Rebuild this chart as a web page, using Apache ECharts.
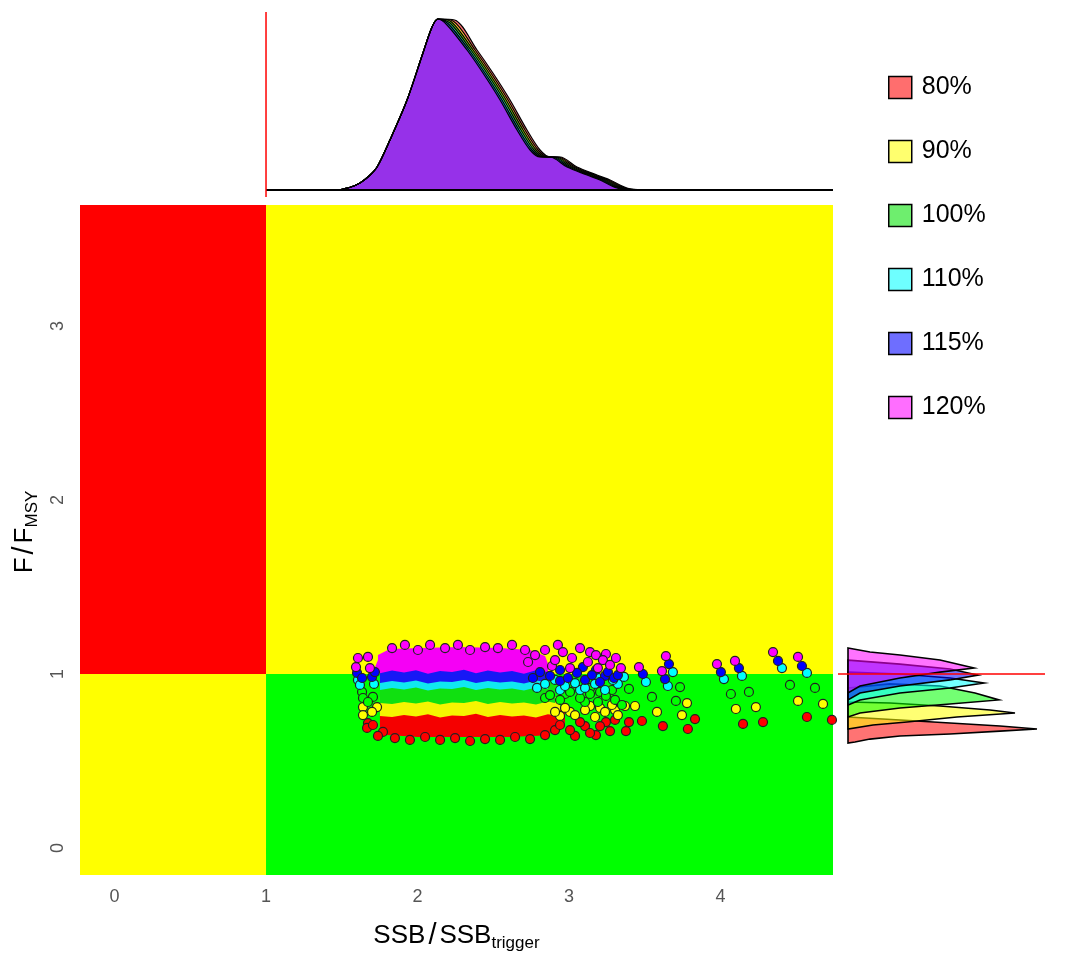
<!DOCTYPE html>
<html><head><meta charset="utf-8">
<script src="https://cdn.jsdelivr.net/npm/echarts@6/dist/echarts.min.js"></script>
<style>html,body{margin:0;padding:0;background:#fff}#c{width:1079px;height:958px}</style>
</head><body><div id="c"></div>
<script>
// ---------- data ----------
const xRange = [-0.228, 4.743];
const yRange = [-0.155, 3.695];
const xTicks = [0, 1, 2, 3, 4];
const yTicks = [0, 1, 2, 3];
const zones = [ // [x0,x1,y0,y1]
  [-0.228, 1, 1, 3.695],
  [-0.228, 1, -0.155, 1],
  [1, 4.743, 1, 3.695],
  [1, 4.743, -0.155, 1]
];
const scenarios = ['80%', '90%', '100%', '110%', '115%', '120%'];

// top marginal densities of SSB/SSBtrigger (x, density)
const densRise = [[1.475,0],[1.560,0.03],[1.620,0.07],[1.680,0.14],[1.733,0.23],[1.818,0.50],[1.931,0.90],[2.036,1.37],[2.096,1.63],[2.135,1.71]];
const dens80  = [[2.245,1.70],[2.393,1.40],[2.498,1.17],[2.611,0.90],[2.723,0.60],[2.809,0.40],[2.875,0.33],[2.941,0.33],[3.053,0.23],[3.185,0.15],[3.271,0.10],[3.383,0.02],[3.488,0]];
const dens90  = [[2.235,1.69],[2.380,1.40],[2.485,1.17],[2.598,0.90],[2.710,0.60],[2.796,0.40],[2.862,0.33],[2.928,0.33],[3.040,0.23],[3.172,0.15],[3.258,0.10],[3.370,0.02],[3.475,0]];
const dens100 = [[2.225,1.68],[2.367,1.40],[2.472,1.17],[2.585,0.90],[2.697,0.60],[2.783,0.40],[2.849,0.33],[2.915,0.33],[3.027,0.23],[3.159,0.15],[3.245,0.10],[3.357,0.02],[3.462,0]];
const dens110 = [[2.215,1.67],[2.353,1.40],[2.458,1.17],[2.571,0.90],[2.683,0.60],[2.769,0.40],[2.835,0.33],[2.901,0.33],[3.013,0.23],[3.145,0.15],[3.231,0.10],[3.343,0.02],[3.448,0]];
const dens115 = [[2.205,1.66],[2.340,1.40],[2.445,1.17],[2.558,0.90],[2.670,0.60],[2.756,0.40],[2.822,0.33],[2.888,0.33],[3.000,0.23],[3.132,0.15],[3.218,0.10],[3.330,0.02],[3.435,0]];
const dens120 = [[2.195,1.65],[2.327,1.40],[2.432,1.17],[2.545,0.90],[2.657,0.60],[2.743,0.40],[2.809,0.33],[2.875,0.33],[2.987,0.23],[3.119,0.15],[3.205,0.10],[3.317,0.02],[3.422,0]];

// right marginal densities of F/FMSY (density, F), closed outlines
const fDens80  = [[0,0.753],[0.52,0.736],[1.02,0.718],[1.52,0.701],[1.89,0.684],[1.52,0.672],[1.02,0.655],[0.52,0.644],[0.22,0.626],[0.07,0.609],[0,0.603]];
const fDens90  = [[0,0.839],[0.42,0.833],[0.92,0.816],[1.42,0.793],[1.67,0.776],[1.09,0.753],[0.59,0.724],[0.25,0.707],[0,0.684]];
const fDens100 = [[0,0.920],[0.42,0.943],[0.92,0.931],[1.27,0.891],[1.51,0.851],[1.02,0.828],[0.52,0.805],[0.12,0.776],[0,0.753]];
const fDens110 = [[0,1.011],[0.52,1.000],[1.02,0.977],[1.36,0.948],[1.02,0.920],[0.52,0.891],[0.12,0.851],[0,0.822]];
const fDens115 = [[0,1.080],[0.52,1.057],[1.02,1.029],[1.30,0.994],[1.02,0.966],[0.52,0.931],[0.12,0.891],[0,0.851]];
const fDens120 = [[0,1.149],[0.22,1.126],[0.52,1.109],[0.92,1.080],[1.26,1.034],[0.92,1.011],[0.52,0.977],[0.12,0.931],[0,0.891]];

// dense cores of the point clouds (outline in SSB, F)
const core80  = [[1.752,0.793],[2.974,0.793],[2.974,0.700],[2.90,0.665],[2.80,0.645],[2.60,0.638],[2.0,0.638],[1.80,0.650],[1.752,0.690]];
const core90  = [[1.752,0.868],[2.941,0.868],[2.941,0.759],[2.861,0.768],[2.782,0.750],[2.703,0.762],[2.624,0.756],[2.545,0.765],[2.465,0.753],[2.386,0.771],[2.307,0.759],[2.228,0.762],[2.149,0.750],[2.069,0.768],[1.990,0.756],[1.911,0.765],[1.832,0.753],[1.752,0.759]];
const core100 = [[1.752,0.948],[2.908,0.948],[2.908,0.833],[2.861,0.842],[2.782,0.825],[2.703,0.836],[2.624,0.830],[2.545,0.839],[2.465,0.828],[2.386,0.845],[2.307,0.833],[2.228,0.836],[2.149,0.825],[2.069,0.842],[1.990,0.830],[1.911,0.839],[1.832,0.828],[1.752,0.833]];
const core110 = [[1.752,0.989],[2.875,0.989],[2.861,0.914],[2.782,0.922],[2.703,0.905],[2.624,0.917],[2.545,0.911],[2.465,0.919],[2.386,0.908],[2.307,0.925],[2.228,0.914],[2.149,0.917],[2.069,0.905],[1.990,0.922],[1.911,0.911],[1.832,0.919],[1.752,0.908]];
const core115 = [[1.752,1.052],[2.861,1.052],[2.861,0.954],[2.782,0.962],[2.703,0.945],[2.624,0.957],[2.545,0.951],[2.465,0.960],[2.386,0.948],[2.307,0.965],[2.228,0.954],[2.149,0.957],[2.069,0.945],[1.990,0.962],[1.911,0.951],[1.832,0.960],[1.752,0.948]];
const core120 = [[1.739,1.109],[1.818,1.144],[2.017,1.149],[2.281,1.155],[2.545,1.149],[2.743,1.138],[2.842,1.103],[2.861,1.060],[2.861,1.011],[2.782,1.022],[2.703,1.002],[2.624,1.017],[2.545,1.008],[2.465,1.020],[2.386,1.005],[2.307,1.025],[2.228,1.011],[2.149,1.017],[2.069,1.002],[1.990,1.022],[1.911,1.008],[1.832,1.020],[1.752,1.005],[1.720,1.040],[1.739,1.080]];

// individual points (SSB, F)
const pts80 = [[1.673,0.718],[1.667,0.690],[1.706,0.707],[1.772,0.667],[1.739,0.644],
  [1.851,0.632],[1.950,0.621],[2.050,0.638],[2.149,0.621],[2.248,0.632],[2.347,0.615],[2.446,0.626],[2.545,0.621],[2.644,0.638],[2.743,0.626],
  [2.842,0.649],[2.908,0.678],[3.040,0.644],[3.106,0.701],[3.178,0.649],[3.244,0.724],
  [2.941,0.707],[3.007,0.678],[3.073,0.724],[3.139,0.661],[3.205,0.701],[3.271,0.672],[3.304,0.736],[3.376,0.672],[3.396,0.724],[3.482,0.730],
  [3.620,0.701],[3.832,0.741],[3.785,0.684],[4.149,0.713],[4.281,0.724],[4.571,0.753],[4.736,0.736]];
const pts90 = [[1.640,0.810],[1.640,0.764],[1.733,0.810],[1.700,0.782],
  [2.941,0.759],[3.007,0.782],[3.139,0.816],[3.205,0.805],[3.304,0.793],
  [2.908,0.782],[2.974,0.805],[3.040,0.764],[3.106,0.793],[3.172,0.753],[3.238,0.782],[3.284,0.822],[3.323,0.764],[3.370,0.816],[3.436,0.816],
  [3.581,0.782],[3.779,0.833],[3.746,0.764],[4.102,0.799],[4.234,0.810],[4.512,0.845],[4.677,0.828]];
const pts100 = [[1.634,0.897],[1.640,0.862],[1.706,0.868],[1.673,0.839],
  [2.842,0.862],[2.974,0.885],[3.106,0.839],[3.205,0.897],[3.284,0.908],[3.139,0.920],
  [2.875,0.879],[2.941,0.851],[3.007,0.897],[3.073,0.862],[3.139,0.885],[3.191,0.839],[3.244,0.874],[3.304,0.851],[3.396,0.914],[3.350,0.822],
  [3.548,0.868],[3.733,0.925],[3.706,0.845],[4.069,0.885],[4.188,0.897],[4.459,0.937],[4.624,0.920]];
const pts110 = [[1.607,0.966],[1.620,0.937],[1.713,0.943],
  [2.789,0.920],[2.941,0.908],[3.073,0.908],[3.191,0.977],[3.323,0.943],
  [2.842,0.943],[2.908,0.966],[2.974,0.931],[3.040,0.948],[3.106,0.920],[3.172,0.943],[3.238,0.908],[3.290,0.966],[3.363,0.983],
  [3.508,0.954],[3.686,1.011],[3.653,0.931],[4.023,0.971],[4.142,0.989],[4.406,1.034],[4.571,1.006]];
const pts115 = [[1.601,1.006],[1.634,0.977],[1.700,0.983],[1.719,1.011],
  [2.762,0.977],[2.941,0.960],[3.092,1.040],[3.178,1.023],[3.238,0.989],
  [2.809,1.011],[2.875,0.989],[2.941,1.023],[2.993,0.977],[3.053,1.006],[3.106,0.966],[3.152,0.994],[3.205,0.954],[3.257,1.011],[3.297,0.977],[3.323,0.994],
  [3.488,1.000],[3.660,1.057],[3.634,0.971],[4.003,1.011],[4.122,1.034],[4.380,1.075],[4.538,1.046]];
const pts120 = [[1.607,1.092],[1.594,1.040],[1.673,1.098],[1.686,1.034],
  [1.832,1.149],[1.917,1.167],[2.003,1.138],[2.083,1.167],[2.182,1.149],[2.267,1.167],[2.347,1.138],[2.446,1.155],[2.531,1.149],[2.624,1.167],[2.710,1.138],[2.927,1.167],
  [2.730,1.069],[2.888,1.046],[3.007,1.034],[3.139,1.126],[3.244,1.115],[3.191,1.034],
  [2.776,1.109],[2.842,1.138],[2.908,1.080],[2.960,1.126],[3.020,1.092],[3.073,1.149],[3.125,1.069],[3.178,1.109],[3.224,1.080],[3.271,1.052],[3.310,1.092],[3.343,1.034],
  [3.462,1.040],[3.640,1.103],[3.614,1.017],[3.977,1.057],[4.096,1.075],[4.347,1.126],[4.512,1.098]];

// ---------- styles ----------
const FONT = 'Liberation Sans, Arial, sans-serif';
const zoneColors = ['#FF0000', '#FFFF00', '#FFFF00', '#00FF00'];
const pure = ['#FF0000', '#FFFF00', '#00FF00', '#00FFFF', '#0000FF', '#FF00FF'];
const coreColors = ['#F50000', '#F5F500', '#10E010', '#10E8F0', '#1818F5', '#F500F5'];
const fills = ['rgba(255,0,0,0.55)', 'rgba(255,255,0,0.55)', 'rgba(0,255,0,0.55)', 'rgba(0,255,255,0.55)', 'rgba(0,0,255,0.55)', 'rgba(255,0,255,0.55)'];
const legendFills = ['#FF6E6E', '#FFFF6E', '#6EEE6E', '#6EFFFF', '#6E6EFF', '#FF6EFF'];

const densRight = [dens80, dens90, dens100, dens110, dens115, dens120];
const fDens = [fDens80, fDens90, fDens100, fDens110, fDens115, fDens120];
const cores = [core80, core90, core100, core110, core115, core120];
const pts = [pts80, pts90, pts100, pts110, pts115, pts120];

function polygonSeries(name, outline, style, xi, yi) {
  return {
    type: 'custom', name: name, xAxisIndex: xi, yAxisIndex: yi, data: outline, silent: true, clip: true,
    renderItem: function (params, api) {
      if (params.dataIndex !== 0) return null;
      return { type: 'polygon', shape: { points: outline.map(function (p) { return api.coord(p); }) }, style: style };
    }
  };
}

const series = [];
// background zones
series.push({
  type: 'custom', xAxisIndex: 0, yAxisIndex: 0, data: zones, silent: true, clip: true,
  renderItem: function (params, api) {
    const p0 = api.coord([api.value(0), api.value(3)]);
    const p1 = api.coord([api.value(1), api.value(2)]);
    return { type: 'rect', shape: { x: p0[0], y: p0[1], width: p1[0] - p0[0], height: p1[1] - p0[1] }, style: { fill: zoneColors[params.dataIndex] } };
  }
});
// dense cores
cores.forEach(function (c, i) { series.push(polygonSeries(scenarios[i], c, { fill: coreColors[i] }, 0, 0)); });
// points
pts.forEach(function (d, i) {
  series.push({ type: 'scatter', name: scenarios[i], xAxisIndex: 0, yAxisIndex: 0, data: d, symbolSize: 9, silent: true,
    itemStyle: { color: pure[i], borderColor: '#222', borderWidth: 1.2, opacity: 1 } });
});
// top densities
densRight.forEach(function (r, i) {
  series.push({ type: 'line', name: scenarios[i], xAxisIndex: 1, yAxisIndex: 1, data: densRise.concat(r), smooth: 0.3,
    symbol: 'none', silent: true, lineStyle: { color: '#000', width: 1.2 }, areaStyle: { color: fills[i], opacity: 1 } });
});
series.push({ type: 'line', xAxisIndex: 1, yAxisIndex: 1, data: [[1, 0], [4.743, 0]], symbol: 'none', silent: true, lineStyle: { color: '#000', width: 2 } });
series.push({ type: 'line', xAxisIndex: 1, yAxisIndex: 1, data: [[1, -0.07], [1, 1.78]], symbol: 'none', silent: true, clip: false, lineStyle: { color: '#FF0000', width: 1.5 } });
// right densities
fDens.forEach(function (o, i) { series.push(polygonSeries(scenarios[i], o, { fill: fills[i], stroke: '#000', lineWidth: 1.6 }, 2, 2)); });
series.push({ type: 'line', xAxisIndex: 2, yAxisIndex: 2, data: [[-0.1, 1], [1.97, 1]], symbol: 'none', silent: true, clip: false, lineStyle: { color: '#FF0000', width: 1.5 } });

const titleRich = {
  a: { fontSize: 26, color: '#000', fontFamily: FONT },
  s: { fontSize: 29, color: '#000', fontFamily: FONT, padding: [0, 3, 0, 3] },
  b: { fontSize: 17, color: '#000', fontFamily: FONT, padding: [15, 0, 0, 0] }
};

const option = {
  animation: false,
  backgroundColor: '#ffffff',
  grid: [
    { left: 80, right: 246, top: 205, bottom: 83 },
    { left: 80, right: 246, top: 10, height: 180 },
    { left: 838, width: 207, top: 205, bottom: 83 }
  ],
  xAxis: [
    { type: 'value', gridIndex: 0, min: xRange[0], max: xRange[1], offset: 7,
      axisLine: { show: false }, splitLine: { show: false },
      axisTick: { show: true, length: 6, customValues: xTicks, lineStyle: { color: '#666' } },
      axisLabel: { customValues: xTicks, fontSize: 18, color: '#555', margin: 6, fontFamily: FONT },
      name: '{a|SSB}{s|/}{a|SSB}{b|trigger}', nameLocation: 'middle', nameGap: 38,
      nameTextStyle: { rich: titleRich } },
    { type: 'value', gridIndex: 1, min: xRange[0], max: xRange[1], show: false },
    { type: 'value', gridIndex: 2, min: -0.1, max: 1.97, show: false }
  ],
  yAxis: [
    { type: 'value', gridIndex: 0, min: yRange[0], max: yRange[1], offset: 7,
      axisLine: { show: false }, splitLine: { show: false },
      axisTick: { show: true, length: 6, customValues: yTicks, lineStyle: { color: '#666' } },
      axisLabel: { customValues: yTicks, fontSize: 18, color: '#555', margin: 6, rotate: 90, fontFamily: FONT },
      name: '{a|F}{s|/}{a|F}{b|MSY}', nameLocation: 'middle', nameGap: 25, nameRotate: 90,
      nameTextStyle: { rich: titleRich, padding: [0, 0, 0, 16] } },
    { type: 'value', gridIndex: 1, min: 0, max: 1.8, show: false },
    { type: 'value', gridIndex: 2, min: yRange[0], max: yRange[1], show: false }
  ],
  legend: {
    orient: 'vertical', left: 888, top: 75, padding: 0, itemWidth: 23, itemHeight: 22, itemGap: 39,
    selectedMode: false, icon: 'rect',
    textStyle: { fontSize: 25, lineHeight: 22, color: '#000', fontFamily: FONT, padding: [0, 0, 0, 5] },
    data: scenarios.map(function (s, i) { return { name: s, icon: 'rect', itemStyle: { color: legendFills[i], borderColor: '#000', borderWidth: 1.5 } }; })
  },
  series: series
};
const chart = echarts.init(document.getElementById('c'), null, { renderer: 'canvas' });
chart.setOption(option);
</script>
</body></html>
